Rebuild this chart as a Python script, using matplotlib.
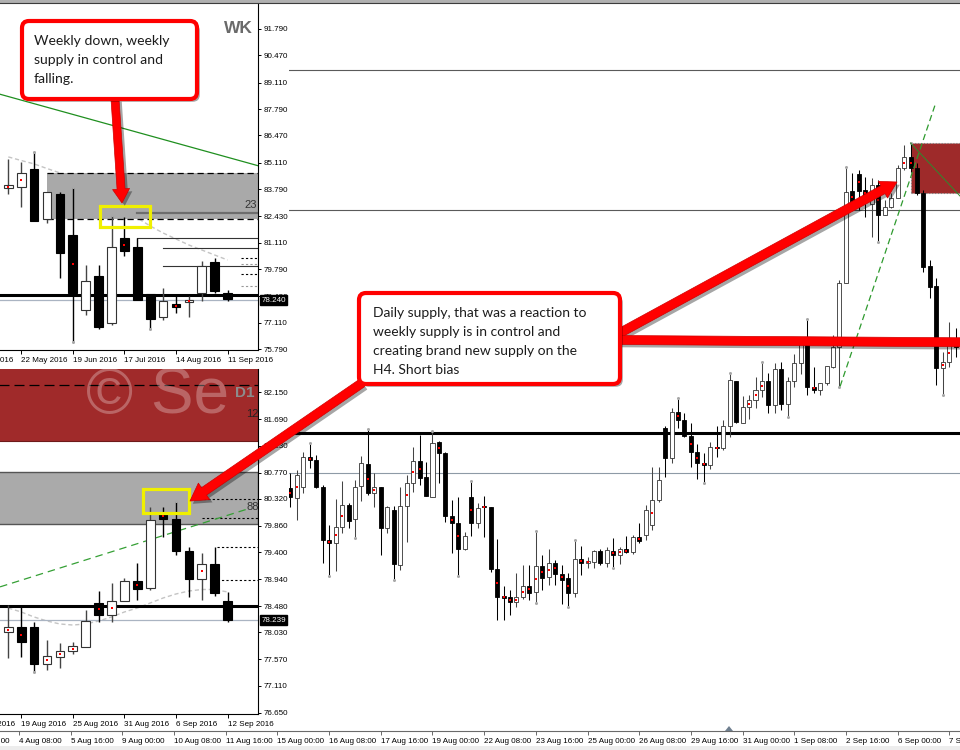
import numpy as np
import matplotlib
matplotlib.use('Agg')
import matplotlib.pyplot as plt
import matplotlib.transforms as mtransforms
import matplotlib.patheffects as pe
import matplotlib.font_manager as fm
from matplotlib.patches import Rectangle, FancyBboxPatch, FancyArrowPatch, Polygon, ArrowStyle

# ---------------- data ----------------
# weekly window (WK)
wk_dates = ['24 Apr 2016', '22 May 2016', '19 Jun 2016', '17 Jul 2016', '14 Aug 2016', '11 Sep 2016']
wk_open = [83.832, 83.882, 84.781, 82.284, 83.532, 81.499, 77.753, 79.451, 77.119,
           81.334, 80.885, 78.552, 77.388, 78.038, 78.138, 78.587, 80.136, 78.587]
wk_high = [85.280, 85.161, 85.660, 83.662, 83.662, 83.882, 80.001, 80.001, 82.498,
           82.383, 81.360, 78.552, 78.837, 78.452, 78.452, 80.216, 80.335, 78.752]
wk_low = [83.547, 82.913, 82.214, 82.084, 79.336, 76.170, 77.503, 76.804, 77.004,
          80.450, 78.253, 76.789, 77.254, 77.618, 77.388, 78.218, 78.617, 78.218]
wk_close = [83.997, 84.611, 82.214, 83.662, 80.585, 78.587, 79.217, 76.919, 80.885,
            80.700, 78.253, 77.303, 78.203, 77.903, 78.253, 79.966, 78.717, 78.288]
wk_ma = [85.40, 85.22, 85.05, 84.82, 84.60, 84.25, 83.90, 83.50, 83.10,
         82.70, 82.35, 81.95, 81.60, 81.30, 81.00, 80.75, 80.50, 80.25]
wk_levels = [91.790, 90.470, 89.110, 87.790, 86.470, 85.110, 83.790, 82.430,
             81.110, 79.790, 78.430, 77.110, 75.790]
wk_zone = [82.28, 84.58]
wk_zone_mid = 82.58
wk_trend_x = [-0.64, 19.36]
wk_trend_p = [88.53, 84.96]
wk_rays_x = [10, 12, 12]
wk_rays = [81.36, 80.84, 79.94]
wk_dotted = [80.34, 80.04, 79.54, 78.97]
wk_box = [7.1, 11.0, 81.91, 82.96]
wk_last = 78.240

# daily window (D1)
d1_dates = ['15 Aug 2016', '19 Aug 2016', '25 Aug 2016', '31 Aug 2016', '6 Sep 2016', '12 Sep 2016']
d1_open = [78.030, 78.116, 78.116, 77.486, 77.611, 77.704, 77.773, 78.538, 78.322,
           78.573, 78.911, 78.785, 80.061, 79.975, 79.426, 78.945, 79.203, 78.567]
d1_high = [78.499, 78.499, 78.212, 77.898, 77.841, 77.858, 78.413, 78.739, 78.882,
           78.957, 79.225, 80.176, 80.176, 80.289, 79.500, 79.397, 79.500, 78.717]
d1_low = [77.584, 77.611, 77.354, 77.383, 77.422, 77.653, 77.773, 78.212, 78.202,
          78.573, 78.585, 78.756, 79.671, 79.357, 78.641, 78.585, 78.653, 78.212]
d1_close = [78.116, 77.858, 77.486, 77.623, 77.709, 77.790, 78.219, 78.327, 78.573,
            78.911, 78.768, 79.958, 79.980, 79.426, 78.945, 79.203, 78.700, 78.241]
d1_ma = [78.447, 78.379, 78.293, 78.224, 78.173, 78.155, 78.173, 78.224, 78.293,
         78.379, 78.447, 78.533, 78.619, 78.688, 78.739, 78.765, 78.765, 78.722]
d1_levels = [82.150, 81.690, 81.230, 80.770, 80.320, 79.860, 79.400, 78.940,
             78.480, 78.030, 77.570, 77.110, 76.650]
d1_red_zone = [81.31, 82.70]
d1_red_dash = 82.275
d1_grey_zone = [79.89, 80.78]
d1_trend_x = [-0.64, 18.74]
d1_trend_p = [78.81, 80.16]
d1_dotted_x = [14.1, 15.0, 16.2, 16.2]
d1_dotted = [80.32, 80.00, 79.49, 78.93]
d1_box = [10.47, 14.0, 80.07, 80.49]
d1_last = 78.239

# shared levels
support = 78.48
last_line = 78.239

# H4 window (full width, behind)
h4_dates = ['3 Aug 00:00', '4 Aug 08:00', '5 Aug 16:00', '9 Aug 00:00', '10 Aug 08:00',
            '11 Aug 16:00', '15 Aug 00:00', '16 Aug 08:00', '17 Aug 16:00', '19 Aug 00:00',
            '22 Aug 08:00', '23 Aug 16:00', '25 Aug 00:00', '26 Aug 08:00', '29 Aug 16:00',
            '31 Aug 00:00', '1 Sep 08:00', '2 Sep 16:00', '6 Sep 00:00', '7 Sep 08:00']
h4_open = [78.150, 78.090,
           78.154, 78.334, 78.318, 78.154, 77.838, 77.818, 77.914, 78.048, 77.962, 78.162,
           78.292, 78.118, 78.154, 77.908, 78.018, 77.688, 78.042, 78.178, 78.312, 78.214,
           78.098, 78.426, 78.358, 77.982, 77.938, 77.782, 78.098, 77.938, 78.042, 78.038,
           77.662, 77.502, 77.494, 77.464, 77.494, 77.562, 77.528, 77.684, 77.614, 77.702,
           77.634, 77.608, 77.522, 77.722, 77.702, 77.708, 77.774, 77.698, 77.774, 77.748,
           77.782, 77.764, 77.858, 77.868, 77.928, 78.078, 78.512, 78.328, 78.604, 78.558,
           78.462, 78.368, 78.298, 78.286, 78.398, 78.388, 78.524, 78.792, 78.542, 78.634,
           78.678, 78.738, 78.792, 78.648, 78.862, 78.654, 78.792, 78.902, 79.018, 78.758,
           78.738, 78.782, 78.878, 78.994, 79.378, 79.934, 80.034, 79.938, 79.854, 79.968,
           79.788, 79.834, 79.888, 80.068, 80.134, 80.068, 79.918, 79.482, 79.362, 78.868,
           78.908, 79.014]
h4_high = [78.240, 78.258,
           78.368, 78.418, 78.348, 78.168, 77.928, 78.084, 78.192, 78.058, 78.198, 78.342,
           78.504, 78.242, 78.154, 78.042, 78.042, 78.154, 78.228, 78.398, 78.468, 78.304,
           78.494, 78.434, 78.368, 78.078, 78.094, 77.888, 78.192, 78.058, 78.102, 78.038,
           77.842, 77.562, 77.538, 77.642, 77.688, 77.688, 77.894, 77.748, 77.784, 77.718,
           77.688, 77.638, 77.838, 77.804, 77.738, 77.778, 77.782, 77.798, 77.848, 77.798,
           77.862, 77.868, 77.938, 78.048, 78.276, 78.276, 78.524, 78.628, 78.692, 78.602,
           78.538, 78.412, 78.358, 78.428, 78.524, 78.558, 78.842, 78.792, 78.702, 78.706,
           78.818, 78.908, 78.842, 78.898, 78.908, 78.818, 78.954, 79.018, 79.164, 78.874,
           78.782, 78.882, 79.068, 79.398, 80.078, 80.042, 80.058, 80.018, 80.008, 79.998,
           79.878, 79.918, 80.088, 80.208, 80.222, 80.098, 79.938, 79.518, 79.408, 78.968,
           79.148, 79.108]
h4_low = [78.036, 77.958,
          78.118, 78.268, 78.148, 77.702, 77.622, 77.654, 77.878, 77.908, 77.848, 78.072,
          78.108, 78.038, 77.748, 77.882, 77.598, 77.658, 77.828, 78.128, 78.168, 78.104,
          78.098, 78.178, 77.948, 77.762, 77.622, 77.778, 77.862, 77.908, 77.858, 77.648,
          77.358, 77.358, 77.388, 77.438, 77.482, 77.478, 77.462, 77.538, 77.568, 77.568,
          77.454, 77.438, 77.498, 77.628, 77.668, 77.668, 77.688, 77.678, 77.668, 77.694,
          77.758, 77.754, 77.818, 77.838, 77.898, 78.066, 78.218, 78.298, 78.508, 78.458,
          78.274, 78.202, 78.178, 78.262, 78.338, 78.378, 78.458, 78.542, 78.542, 78.566,
          78.628, 78.698, 78.598, 78.598, 78.618, 78.578, 78.758, 78.834, 78.708, 78.718,
          78.708, 78.768, 78.868, 78.756, 79.378, 79.838, 79.818, 79.778, 79.658, 79.628,
          79.788, 79.828, 79.888, 80.058, 80.048, 79.908, 79.448, 79.288, 78.768, 78.708,
          78.878, 78.938]
h4_close = [78.096, 78.228,
            78.334, 78.318, 78.154, 77.838, 77.818, 77.914, 78.048, 77.954, 78.158, 78.298,
            78.122, 78.154, 77.908, 78.034, 77.692, 78.042, 78.178, 78.312, 78.212, 78.104,
            78.422, 78.358, 77.982, 77.938, 77.782, 77.862, 77.942, 78.028, 78.034, 77.662,
            77.494, 77.488, 77.464, 77.494, 77.562, 77.522, 77.684, 77.608, 77.702, 77.634,
            77.598, 77.522, 77.722, 77.702, 77.712, 77.774, 77.698, 77.778, 77.748, 77.782,
            77.764, 77.858, 77.834, 78.018, 78.078, 78.198, 78.328, 78.604, 78.558, 78.462,
            78.368, 78.298, 78.286, 78.398, 78.388, 78.524, 78.798, 78.548, 78.634, 78.678,
            78.738, 78.792, 78.648, 78.862, 78.654, 78.792, 78.898, 79.018, 78.758, 78.738,
            78.782, 78.882, 78.998, 79.378, 79.928, 79.862, 79.934, 79.898, 79.968, 79.788,
            79.834, 79.888, 80.068, 80.134, 80.068, 79.922, 79.478, 79.358, 78.868, 78.908,
            79.018, 78.994]
h4_lines = [80.66, 79.82]
h4_zone = [79.92, 80.22]
h4_zone_x = 94
h4_trend_x = [83.1, 97.9]
h4_trend_p = [78.76, 80.46]
h4_trend2_x = [94.0, 101.7]
h4_trend2_p = [80.22, 79.90]

# ---------------- layout ----------------
W, H = 960, 750
names = {f.name for f in fm.fontManager.ttflist}
plt.rcParams['font.family'] = ['Liberation Sans', 'DejaVu Sans']
NARROW = 'Liberation Sans Narrow' if 'Liberation Sans Narrow' in names else 'Liberation Sans'
TEXTFONT = 'Lato' if 'Lato' in names else 'DejaVu Sans'
TICK_FS = 5.8

fig = plt.figure(figsize=(9.6, 7.5), dpi=100)
px = mtransforms.Affine2D().scale(1 / W, -1 / H).translate(0, 1) + fig.transFigure


def frect(x0, y0, x1, y1):
    return [x0 / W, 1 - y1 / H, (x1 - x0) / W, (y1 - y0) / H]


def candles(ax, x, o, h, l, c, width, lw, wick_lw, dot_ms):
    o, h, l, c = map(np.asarray, (o, h, l, c))
    x = np.asarray(x)
    for xi, oi, hi, li, ci in zip(x, o, h, l, c):
        up = ci >= oi
        ax.plot([xi, xi], [li, hi], color='#444444' if up else 'black', lw=wick_lw,
                zorder=3, solid_capstyle='butt')
        lo, top = min(oi, ci), max(oi, ci)
        ax.add_patch(Rectangle((xi - width / 2, lo), width, max(top - lo, 1e-4),
                               facecolor='white' if up else 'black',
                               edgecolor='#333333' if up else 'black', lw=lw, zorder=3.2))
    small = np.abs(c - o) < 0.5 * (h - l)
    ax.plot(x[small], ((o + c) / 2)[small], 's', color='red', ms=dot_ms, mew=0, zorder=3.5)
    # fractal marks
    n = len(h)
    ups = [i for i in range(2, n - 2) if h[i] > max(h[i - 2], h[i - 1], h[i + 1], h[i + 2])]
    dns = [i for i in range(2, n - 2) if l[i] < min(l[i - 2], l[i - 1], l[i + 1], l[i + 2])]
    ax.plot(x[ups], h[ups], 'o', color='#a8a8a8', ms=2.2, mew=0, zorder=3.6)
    ax.plot(x[dns], l[dns], 'o', color='#a8a8a8', ms=2.2, mew=0, zorder=3.6)


# ---- H4 chart (behind everything) ----
H4_X0, H4_STEP, H4_PX = 303.3, 6.46, 0.006
ax4 = fig.add_axes(frect(-60, 3, 960, 731), zorder=0)
ax4.set_xlim((-60 - H4_X0) / H4_STEP, (960 - H4_X0) / H4_STEP)
ax4.set_ylim(support - (731 - 433) * H4_PX, support + (433 - 3) * H4_PX)
h4_x = np.arange(len(h4_open)) - 2
for lv in h4_lines:
    ax4.axhline(lv, color='#5a5a5a', lw=0.8, zorder=1)
ax4.axhline(support, color='black', lw=2.2, zorder=1.2)
ax4.axhline(last_line, color='#8e9aa6', lw=0.8, zorder=1.1)
ax4.add_patch(Rectangle((h4_zone_x, h4_zone[0]), 20, h4_zone[1] - h4_zone[0],
                        facecolor='#9e2a2a', edgecolor='#808080', lw=0.8, ls=':', zorder=1.5))
candles(ax4, h4_x, h4_open, h4_high, h4_low, h4_close, 0.62, 0.6, 0.75, 1.6)
ax4.plot(h4_trend_x, h4_trend_p, color='#2e9a2e', lw=0.9, dashes=(5, 3), zorder=4)
ax4.plot(h4_trend2_x, h4_trend2_p, color='#2e8a2e', lw=0.7, zorder=4)
ax4.set_xticks(np.arange(-52, 101, 8))
ax4.set_xticklabels(h4_dates)
ax4.set_yticks([])
for s in ('left', 'right', 'top'):
    ax4.spines[s].set_visible(False)
ax4.spines['bottom'].set_color('#6a6a6a')
ax4.spines['bottom'].set_linewidth(0.8)
ax4.tick_params(axis='x', length=3, width=0.7, pad=2.2, labelsize=TICK_FS, color='#6a6a6a')
for lab in ax4.get_xticklabels():
    lab.set_ha('left')

# white cover behind the two small windows
for y0, y1 in ((3, 366), (366, 729)):
    fig.add_artist(Rectangle((0, y0), 289, y1 - y0, transform=px, facecolor='white',
                             edgecolor='none', zorder=1))

# ---- WK window ----
WK_X0, WK_STEP = 8.3, 12.9
axw = fig.add_axes(frect(-40, 3, 258, 350), zorder=2)
axw.set_xlim((-40 - WK_X0) / WK_STEP, (258 - WK_X0) / WK_STEP)
axw.set_ylim(75.79 - (350 - 349.3) * 0.04995, 75.79 + (349.3 - 3) * 0.04995)
wk_x = np.arange(len(wk_open))
axw.plot(wk_x, wk_ma, color='#c4c4c4', lw=1.0, dashes=(3, 2), zorder=1.5)
axw.add_patch(Rectangle((3, wk_zone[0]), 30, wk_zone[1] - wk_zone[0],
                        facecolor='#a9a9a9', edgecolor='none', zorder=2))
for lv in wk_zone:
    axw.plot([3, 30], [lv, lv], color='black', lw=0.9, dashes=(5, 3), zorder=2.1)
axw.plot([10, 30], [wk_zone_mid, wk_zone_mid], color='#6d6d6d', lw=1.6, zorder=2.2)
for x0, lv in zip(wk_rays_x, wk_rays):
    axw.plot([x0, 30], [lv, lv], color='#333333', lw=0.8, zorder=2.2)
for i, lv in enumerate(wk_dotted):
    axw.plot([18.0, 30], [lv, lv], color='black' if i % 2 == 0 else '#999999', lw=0.8,
             dashes=(2, 2), zorder=2.2)
axw.axhline(support, color='black', lw=2.2, zorder=2.5)
axw.axhline(last_line, color='#aab4c2', lw=0.9, zorder=2.4)
candles(axw, wk_x, wk_open, wk_high, wk_low, wk_close, 0.68, 0.8, 1.0, 2.0)
axw.plot(wk_trend_x, wk_trend_p, color='#1f8f1f', lw=0.9, zorder=4)
axw.add_patch(Rectangle((wk_box[0], wk_box[2]), wk_box[1] - wk_box[0], wk_box[3] - wk_box[2],
                        fill=False, edgecolor='#f0f000', lw=2.3, zorder=6))

# ---- D1 window ----
axd = fig.add_axes(frect(-40, 369, 258, 714), zorder=2)
axd.set_xlim((-40 - WK_X0) / WK_STEP, (258 - WK_X0) / WK_STEP)
axd.set_ylim(76.65 - (714 - 712.7) * 0.017166, 76.65 + (712.7 - 369) * 0.017166)
d1_x = np.arange(len(d1_open))
axd.axhspan(d1_red_zone[0], d1_red_zone[1], facecolor='#a02a2a', edgecolor='#6e1a1a', lw=0.8, zorder=1)
axd.axhline(d1_red_dash, color='black', lw=0.9, dashes=(8, 4), zorder=1.2)
axd.axhspan(d1_grey_zone[0], d1_grey_zone[1], facecolor='#aaaaaa', edgecolor='#555555', lw=1.0, zorder=1)
axd.plot(d1_x, d1_ma, color='#c4c4c4', lw=1.0, dashes=(3, 2), zorder=1.5)
for x0, lv in zip(d1_dotted_x, d1_dotted):
    axd.plot([x0, 30], [lv, lv], color='black', lw=0.8, dashes=(2, 2), zorder=2.2)
axd.axhline(support, color='black', lw=2.2, zorder=2.5)
axd.axhline(last_line, color='#aab4c2', lw=0.9, zorder=2.4)
axd.plot(d1_trend_x, d1_trend_p, color='#35a035', lw=0.9, dashes=(6, 4), zorder=2.6)
candles(axd, d1_x, d1_open, d1_high, d1_low, d1_close, 0.68, 0.8, 1.0, 2.0)
axd.add_patch(Rectangle((d1_box[0], d1_box[2]), d1_box[1] - d1_box[0], d1_box[3] - d1_box[2],
                        fill=False, edgecolor='#f0f000', lw=2.3, zorder=6))

for ax, levels, dates, lastv in ((axw, wk_levels, wk_dates, wk_last),
                                 (axd, d1_levels, d1_dates, d1_last)):
    ax.yaxis.tick_right()
    ax.set_yticks(levels)
    ax.set_yticklabels([f'{v:.3f}' for v in levels])
    ax.set_xticks(np.arange(-3, 18, 4))
    ax.set_xticklabels(dates)
    for lab in ax.get_xticklabels():
        lab.set_ha('left')
    ax.tick_params(axis='y', length=2, width=0.7, pad=2, labelsize=TICK_FS)
    ax.tick_params(axis='x', length=3, width=0.7, pad=2, labelsize=TICK_FS)
    for s in ('left', 'top'):
        ax.spines[s].set_visible(False)
    for s in ('right', 'bottom'):
        ax.spines[s].set_linewidth(0.8)
    ax.annotate(f'{lastv:.3f}', xy=(1, lastv), xycoords=ax.get_yaxis_transform(),
                xytext=(2.4, 0), textcoords='offset points', va='center', ha='left',
                color='white', fontsize=TICK_FS, annotation_clip=False, zorder=8,
                bbox=dict(boxstyle='square,pad=0.18', fc='black', ec='black'))

# window labels
fig.text(253, 33, 'WK', transform=px, ha='right', va='baseline', fontsize=12.5,
         fontweight='bold', family=NARROW, color='#6a6a6a', zorder=9)
fig.text(254, 397, 'D1', transform=px, ha='right', va='baseline', fontsize=11,
         fontweight='bold', family=NARROW, color='#8c8c8c', zorder=9)
fig.text(257, 208, '23', transform=px, ha='right', va='baseline', fontsize=8, color='#333333', zorder=9)
fig.text(259, 417, '12', transform=px, ha='right', va='baseline', fontsize=8, color='#222222', zorder=9)
fig.text(259, 510, '88', transform=px, ha='right', va='baseline', fontsize=8, color='#333333', zorder=9)

# ---- callouts and arrows ----
shadow = [pe.SimplePatchShadow(offset=(2, -2), shadow_rgbFace='black', alpha=0.35), pe.Normal()]


def callout(x0, y0, x1, y1, lines, tx, base, fs):
    fig.add_artist(FancyBboxPatch((x0, y0), x1 - x0, y1 - y0,
                                  boxstyle='round,pad=0,rounding_size=7', transform=px,
                                  facecolor='white', edgecolor='#ff0000', lw=3, zorder=20,
                                  path_effects=shadow))
    for i, line in enumerate(lines):
        fig.text(tx, base + i * 19.2, line, transform=px, ha='left', va='baseline',
                 fontsize=fs, family=TEXTFONT, color='#1c1c1c', zorder=21)


def arrow(a, b, tail=8, head_w=18, head_l=15):
    k = 72 / 100
    fig.add_artist(FancyArrowPatch(a, b, transform=px, mutation_scale=1,
                                   arrowstyle=ArrowStyle.Simple(head_length=head_l * k,
                                                                head_width=head_w * k,
                                                                tail_width=tail * k),
                                   facecolor='#ff0000', edgecolor='#d00000', lw=0.5,
                                   shrinkA=0, shrinkB=0, zorder=19, path_effects=shadow))


arrow((115, 99), (122, 203), tail=8, head_w=17, head_l=14)
arrow((618, 334), (897, 182), tail=9, head_w=19, head_l=16)
arrow((618, 340), (995, 342.5), tail=9, head_w=19, head_l=16)
arrow((362, 383), (190, 501), tail=9, head_w=20, head_l=17)

callout(22, 21, 197, 99, ['Weekly down, weekly', 'supply in control and', 'falling.'],
        33.5, 45, 10.1)
callout(359, 293, 620, 384, ['Daily supply, that was a reaction to',
                             'weekly supply is in control and',
                             'creating brand new supply on the',
                             'H4. Short bias'], 373, 316.7, 10.0)

# watermark
fig.text(86, 413, '\u00a9 Se', transform=px, ha='left', va='baseline', fontsize=46,
         color='white', alpha=0.28, zorder=30)

# window frame bits
fig.add_artist(Rectangle((0, 0), W, 2.5, transform=px, facecolor='#b0b0b0', edgecolor='none', zorder=40))
fig.add_artist(plt.Line2D([0, W], [3, 3], transform=px, color='#3c3c3c', lw=0.8, zorder=40))
fig.add_artist(Rectangle((0, 746), W, 4, transform=px, facecolor='#ededed', edgecolor='none', zorder=40))
fig.add_artist(Polygon([(725, 731), (733, 731), (729, 726)], closed=True, transform=px,
                       facecolor='#6f7f8f', edgecolor='none', zorder=40))

fig.savefig('out.png', dpi=100)
